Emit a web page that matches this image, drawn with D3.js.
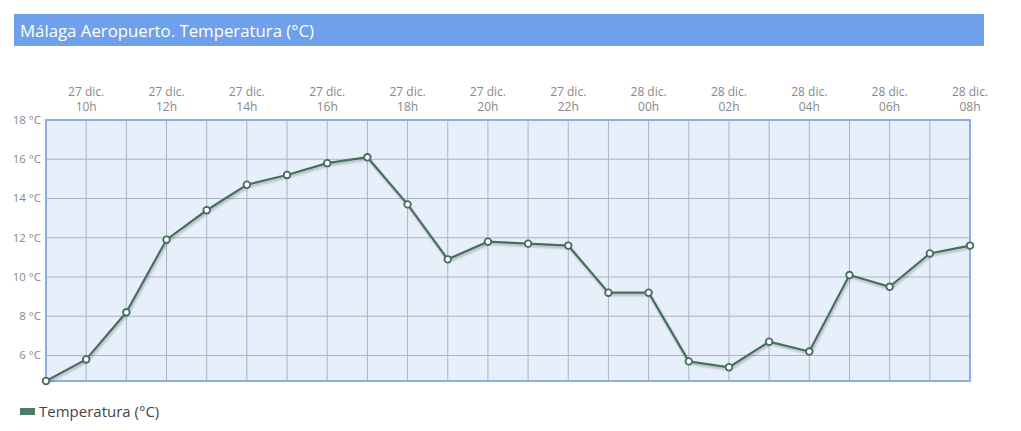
<!DOCTYPE html>
<html>
<head>
<meta charset="utf-8">
<script src="https://cdn.jsdelivr.net/npm/d3@7"></script>
<style>
  body { margin: 0; background: #fff; }
  svg { display: block; font-family: "Open Sans", sans-serif; }
</style>
</head>
<body>
<script>
// temperatura horaria, Málaga Aeropuerto
var hours = ["09h","10h","11h","12h","13h","14h","15h","16h","17h","18h","19h","20h",
             "21h","22h","23h","00h","01h","02h","03h","04h","05h","06h","07h","08h"];
var days = ["27 dic.","27 dic.","27 dic.","27 dic.","27 dic.","27 dic.","27 dic.","27 dic.",
            "27 dic.","27 dic.","27 dic.","27 dic.","27 dic.","27 dic.","27 dic.",
            "28 dic.","28 dic.","28 dic.","28 dic.","28 dic.","28 dic.","28 dic.","28 dic.","28 dic."];
var temps = [4.7, 5.8, 8.2, 11.9, 13.4, 14.7, 15.2, 15.8, 16.1, 13.7, 10.9, 11.8,
             11.7, 11.6, 9.2, 9.2, 5.7, 5.4, 6.7, 6.2, 10.1, 9.5, 11.2, 11.6];
var yTicks = [6, 8, 10, 12, 14, 16, 18];

var W = 1021, H = 431;
// note: "top" is taken by window.top, so use other names
var pL = 46, pR = 970, pT = 120, pB = 381;

var svg = d3.select("body").append("svg")
    .attr("width", W)
    .attr("height", H);

var defs = svg.append("defs");
var f = defs.append("filter").attr("id", "shadow")
    .attr("x", "-5%").attr("y", "-20%").attr("width", "110%").attr("height", "140%");
f.append("feDropShadow").attr("dx", 1).attr("dy", 2).attr("stdDeviation", 1.2)
    .attr("flood-color", "#000").attr("flood-opacity", 0.25);

// title bar
svg.append("rect").attr("x", 14).attr("y", 14).attr("width", 970).attr("height", 32)
    .attr("fill", "#6fa0ec");
svg.append("text").attr("x", 20).attr("y", 37)
    .attr("fill", "#fff").attr("font-size", 16.8)
    .text("Málaga Aeropuerto. Temperatura (°C)");

var x = d3.scalePoint().domain(d3.range(hours.length)).range([pL, pR]);
var y = d3.scaleLinear().domain([4.7, 18]).range([pB, pT]);

// plot background
svg.append("rect").attr("x", pL).attr("y", pT)
    .attr("width", pR - pL).attr("height", pB - pT)
    .attr("fill", "#e7effa");

// grid
var g = svg.append("g");
g.selectAll("line.v").data(d3.range(1, hours.length - 1)).enter().append("line")
    .attr("x1", function(d) { return x(d); }).attr("x2", function(d) { return x(d); })
    .attr("y1", pT).attr("y2", pB)
    .attr("stroke", "#aab3c6").attr("stroke-width", 1);
g.selectAll("line.h").data(yTicks.slice(0, -1)).enter().append("line")
    .attr("x1", pL).attr("x2", pR)
    .attr("y1", function(d) { return y(d); }).attr("y2", function(d) { return y(d); })
    .attr("stroke", "#aab3c6").attr("stroke-width", 1);

// border
svg.append("rect").attr("x", pL).attr("y", pT)
    .attr("width", pR - pL).attr("height", pB - pT)
    .attr("fill", "none").attr("stroke", "#8eaee2").attr("stroke-width", 2);

// y labels
svg.selectAll("text.yl").data(yTicks).enter().append("text")
    .attr("x", 41).attr("y", function(d) { return y(d) + 4; })
    .attr("text-anchor", "end").attr("font-size", 11.5).attr("fill", "#888")
    .text(function(d) { return d + " °C"; });

// x labels on even hours
var lab = d3.range(1, hours.length, 2);
var xl = svg.selectAll("text.xl").data(lab).enter().append("text")
    .attr("text-anchor", "middle").attr("font-size", 12).attr("fill", "#888");
xl.append("tspan").attr("x", function(d) { return x(d); }).attr("y", 96)
    .text(function(d) { return days[d]; });
xl.append("tspan").attr("x", function(d) { return x(d); }).attr("y", 111)
    .text(function(d) { return hours[d]; });

// line
var line = d3.line()
    .x(function(d, i) { return x(i); })
    .y(function(d) { return y(d); });
svg.append("path").datum(temps)
    .attr("d", line)
    .attr("fill", "none").attr("stroke", "#466e5f").attr("stroke-width", 2.2)
    .attr("filter", "url(#shadow)");

svg.selectAll("circle").data(temps).enter().append("circle")
    .attr("cx", function(d, i) { return x(i); })
    .attr("cy", function(d) { return y(d); })
    .attr("r", 3.3)
    .attr("fill", "#fff").attr("stroke", "#466e5f").attr("stroke-width", 1.8);

// legend
svg.append("rect").attr("x", 20).attr("y", 408).attr("width", 15).attr("height", 7)
    .attr("fill", "#4b7a66");
svg.append("text").attr("x", 39).attr("y", 417)
    .attr("font-size", 15).attr("fill", "#444")
    .text("Temperatura (°C)");
</script>
</body>
</html>
